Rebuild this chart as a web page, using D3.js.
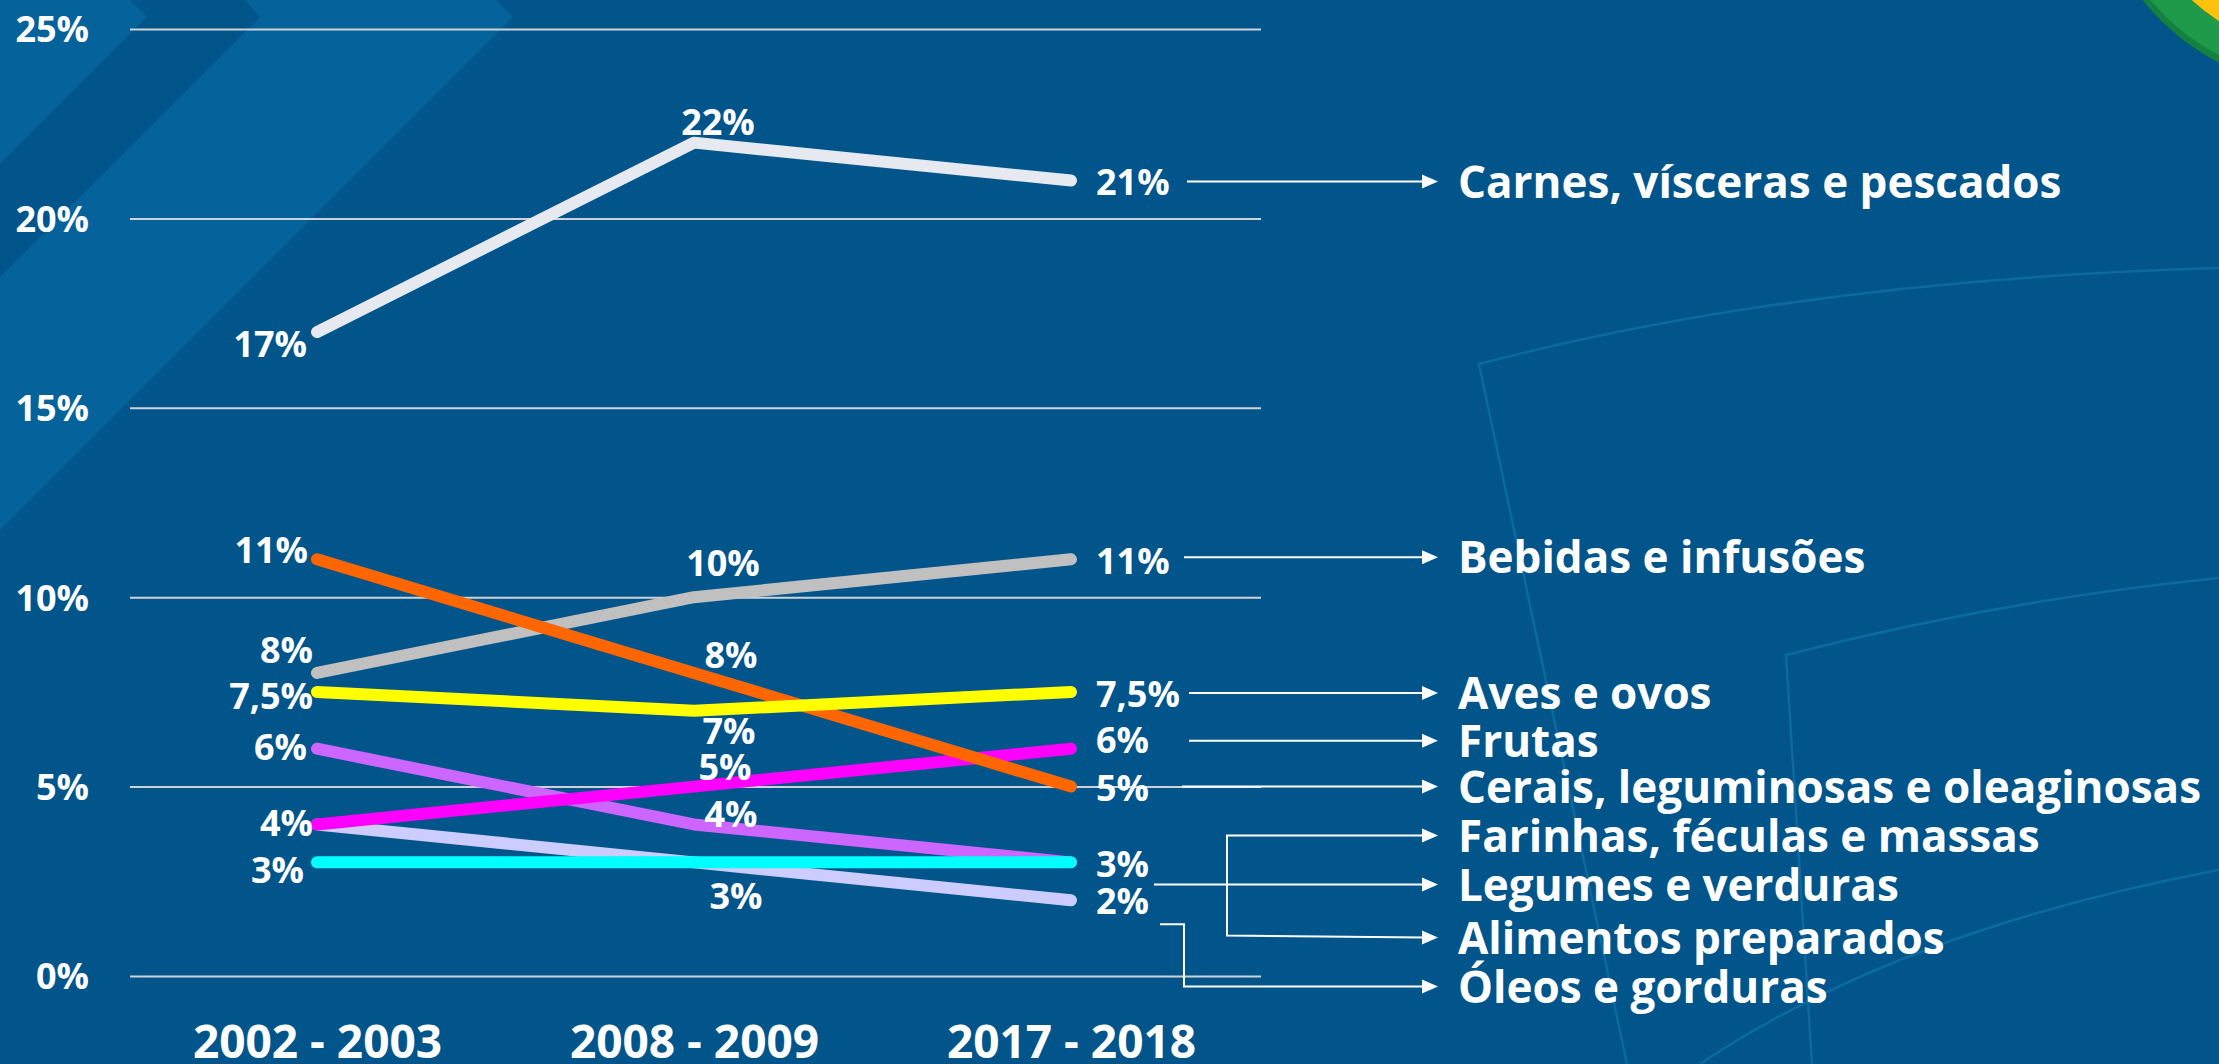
<!DOCTYPE html>
<html>
<head>
<meta charset="utf-8">
<script src="https://cdn.jsdelivr.net/npm/d3@7"></script>
<style>
  html, body { margin: 0; padding: 0; background: #01558a; }
  svg { display: block; }
  text { font-family: "Open Sans", "Noto Sans", sans-serif; font-weight: 700; fill: #ffffff; }
</style>
</head>
<body>
<svg id="chart" width="2219" height="1064"></svg>
<script>
// ---------------- DATA ----------------
const categories = ["2002 - 2003", "2008 - 2009", "2017 - 2018"];
const yTicks = [0, 5, 10, 15, 20, 25];

const carnesValues   = [17, 22, 21];   // Carnes, vísceras e pescados
const bebidasValues  = [8, 10, 11];    // Bebidas e infusões
const cereaisValues  = [11, 8, 5];     // Cerais, leguminosas e oleaginosas
const avesValues     = [7.5, 7, 7.5];  // Aves e ovos
const frutasValues   = [4, 5, 6];      // Frutas
const farinhasValues = [6, 4, 3];      // Farinhas, féculas e massas
const legumesValues  = [3, 3, 3];      // Legumes e verduras
const oleosValues    = [4, 3, 2];      // Óleos e gorduras

const legendNames = [
  "Carnes, vísceras e pescados",
  "Bebidas e infusões",
  "Aves e ovos",
  "Frutas",
  "Cerais, leguminosas e oleaginosas",
  "Farinhas, féculas e massas",
  "Legumes e verduras",
  "Alimentos preparados",
  "Óleos e gorduras"
];

// ---------------- STYLES / LAYOUT ----------------
const seriesColors = {
  carnes: "#e6e9ef", bebidas: "#c0c0c0", cereais: "#ff6600", aves: "#ffff00",
  frutas: "#ff00ff", farinhas: "#cc66ff", legumes: "#00ffff", oleos: "#ccccff"
};
// label offsets [dx, dy] per point (null = not labelled)
const labelPlacement = {
  carnes:   [[-10, 12], [24, -21], [25, 1]],
  bebidas:  [[-4, -23], [29, -34], [25, 2]],
  oleos:    [null, [42, 34], [25, 1]],
  farinhas: [[-10, -2], [37, -10], null],
  frutas:   [[-4, -1], [31, -20], [25, -9]],
  legumes:  [[-13, 8], null, [25, 2]],
  cereais:  [[-9, -9], [37, -18], [25, 1]],
  aves:     [[-4, 4], [35, 20], [25, 2]]
};
const labelAnchors = ["end", "middle", "start"];

const series = [
  { key: "carnes", values: carnesValues },
  { key: "bebidas", values: bebidasValues },
  { key: "oleos", values: oleosValues },
  { key: "farinhas", values: farinhasValues },
  { key: "frutas", values: frutasValues },
  { key: "legumes", values: legumesValues },
  { key: "cereais", values: cereaisValues },
  { key: "aves", values: avesValues }
];

const W = 2219, H = 1064;
const svg = d3.select("#chart");

// ---------------- BACKGROUND DECORATION ----------------
const deco = svg.append("g");
deco.append("rect").attr("width", W).attr("height", H).attr("fill", "#01558a");
deco.append("polygon").attr("points", "0,0 130,0 147,17 0,164").attr("fill", "#05629a");
deco.append("polygon").attr("points", "260,17 245,0 497,0 513,17 0,530 0,277").attr("fill", "#05629a");
const arcStyle = s => s.attr("fill", "none").attr("stroke", "#0c6aa0").attr("stroke-width", 2.5);
deco.append("path").attr("d", "M1627,1064 L1479,364 Q1800,280 2219,268").call(arcStyle);
deco.append("path").attr("d", "M1812,1064 L1786,655 Q2000,600 2219,578").call(arcStyle);
deco.append("path").attr("d", "M1700,1064 Q1900,930 2219,870").call(arcStyle);
// logo corner
deco.append("circle").attr("cx", 2330).attr("cy", -150).attr("r", 240).attr("fill", "#15803f");
deco.append("circle").attr("cx", 2330).attr("cy", -153).attr("r", 236).attr("fill", "#1f9a4a");
deco.append("circle").attr("cx", 2330).attr("cy", -150).attr("r", 204).attr("fill", "#ffc20e");

// ---------------- SCALES ----------------
const x = d3.scalePoint().domain(categories).range([317, 1071]);
const y = d3.scaleLinear().domain([0, 25]).range([976, 29]);

// ---------------- AXES ----------------
const yAxis = svg.append("g").attr("transform", "translate(130,0)")
  .call(d3.axisLeft(y).tickValues(yTicks).tickSize(-(1261 - 130)).tickSizeOuter(0)
    .tickPadding(41).tickFormat(d => d + "%"));
yAxis.select(".domain").remove();
yAxis.selectAll(".tick line").attr("stroke", "#cfd3d8").attr("stroke-width", 2);
yAxis.selectAll(".tick text").attr("font-size", 36).attr("fill", "#fff")
  .attr("font-family", "Open Sans").attr("font-weight", 700).attr("dy", "0.36em");

const xAxis = svg.append("g").attr("transform", "translate(0,976)")
  .call(d3.axisBottom(x).tickSize(0).tickPadding(49));
xAxis.select(".domain").remove();
xAxis.selectAll(".tick text").attr("font-size", 46).attr("fill", "#fff")
  .attr("font-family", "Open Sans").attr("font-weight", 700);

// ---------------- LINES ----------------
const line = d3.line().x((d, i) => x(categories[i])).y(d => y(d));
svg.append("g").selectAll("path").data(series).join("path")
  .attr("d", s => line(s.values))
  .attr("fill", "none")
  .attr("stroke", s => seriesColors[s.key])
  .attr("stroke-width", 12)
  .attr("stroke-linecap", "round")
  .attr("stroke-linejoin", "round");

// ---------------- POINT LABELS ----------------
const fmt = v => String(v).replace(".", ",") + "%";
const labelData = [];
series.forEach(s => s.values.forEach((v, i) => {
  const p = labelPlacement[s.key][i];
  if (p) labelData.push({ v, i, dx: p[0], dy: p[1] });
}));
svg.append("g").selectAll("text").data(labelData).join("text")
  .attr("x", d => x(categories[d.i]) + d.dx)
  .attr("y", d => y(d.v) + d.dy + 13)
  .attr("text-anchor", d => labelAnchors[d.i])
  .attr("font-size", 36)
  .text(d => fmt(d.v));

// ---------------- LEGEND WITH CONNECTORS ----------------
const last = 2;
const tipX = 1438, textX = 1458;
const rowY = [
  y(carnesValues[last]) + 1,
  y(bebidasValues[last]) - 2,
  y(avesValues[last]) + 1,
  y(frutasValues[last]) - 8,
  y(cereaisValues[last]),
];
const baseY = rowY[4];
rowY.push(baseY + 49, baseY + 98, baseY + 151, baseY + 200);

const leg = svg.append("g");
leg.selectAll("text").data(legendNames).join("text")
  .attr("x", textX).attr("y", (d, i) => rowY[i] + 16)
  .attr("font-size", 44).text(d => d);

// arrowheads
leg.selectAll("path.head").data(rowY).join("path").attr("class", "head")
  .attr("d", d => `M${tipX},${d} L${tipX - 16},${d - 7} L${tipX - 16},${d + 7} Z`)
  .attr("fill", "#fff");

// connectors
const conn = [
  `M1187,${rowY[0]} H${tipX - 14}`,
  `M1184,${rowY[1]} H${tipX - 14}`,
  `M1189,${rowY[2]} H${tipX - 14}`,
  `M1189,${rowY[3]} H${tipX - 14}`,
  `M1182,${rowY[4]} H${tipX - 14}`,
  `M${tipX - 14},${rowY[5]} H1227 V${rowY[7] - 2} L${tipX - 14},${rowY[7]}`,
  `M1154,${rowY[6]} H${tipX - 14}`,
  `M1160,${y(oleosValues[last]) + 24} H1184 V${rowY[8]} H${tipX - 14}`
];
leg.selectAll("path.conn").data(conn).join("path").attr("class", "conn")
  .attr("d", d => d).attr("fill", "none").attr("stroke", "#fff").attr("stroke-width", 2);
</script>
</body>
</html>
